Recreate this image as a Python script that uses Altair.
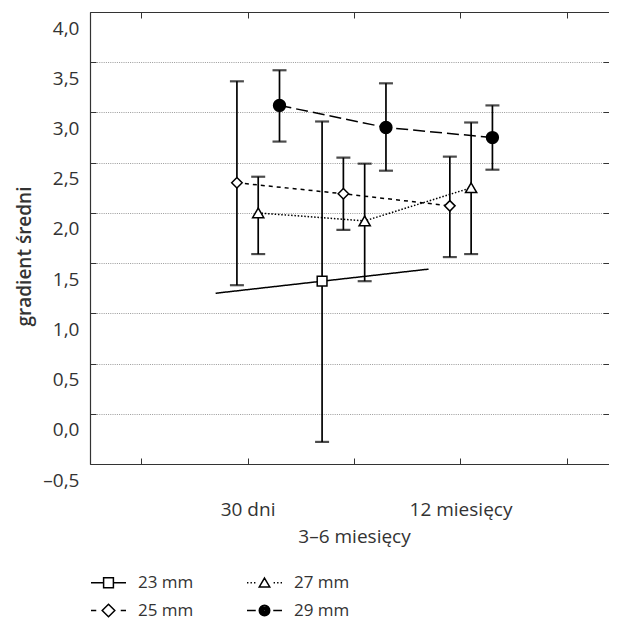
import altair as alt
import pandas as pd

# ---- data ----
series = ["23 mm", "25 mm", "27 mm", "29 mm"]
time_labels = ["30 dni", "3–6 miesięcy", "12 miesięcy"]
time_pos = [1, 2, 3]
dodge = [-0.3, -0.1, 0.1, 0.3]

mean_23 = [1.20, 1.32, 1.44]
low_23 = [None, -0.28, None]
high_23 = [None, 2.91, None]

mean_25 = [2.30, 2.19, 2.07]
low_25 = [1.28, 1.83, 1.56]
high_25 = [3.31, 2.55, 2.56]

mean_27 = [2.00, 1.92, 2.25]
low_27 = [1.59, 1.32, 1.59]
high_27 = [2.36, 2.49, 2.90]

mean_29 = [3.07, 2.85, 2.75]
low_29 = [2.71, 2.42, 2.43]
high_29 = [3.42, 3.29, 3.07]

y_ticks = [-0.5, 0.0, 0.5, 1.0, 1.5, 2.0, 2.5, 3.0, 3.5, 4.0]
x_ticks = [0, 1, 2, 3, 4]

means = [mean_23, mean_25, mean_27, mean_29]
lows = [low_23, low_25, low_27, low_29]
highs = [high_23, high_25, high_27, high_29]

rows = []
for si, s in enumerate(series):
    for ti, t in enumerate(time_pos):
        rows.append({
            "series": s,
            "x": t + dodge[si],
            "mean": means[si][ti],
            "lo": lows[si][ti],
            "hi": highs[si][ti],
            "marker": lows[si][ti] is not None,
        })
df = pd.DataFrame(rows)
err_df = df[df["marker"]].copy()

# ---- styling ----
W, H = 519, 452
FONT = "Open Sans"
INK = "#333333"
xs = alt.Scale(domain=[-0.48, 4.395], nice=False, zero=False)
ys = alt.Scale(domain=[-0.5, 4.0], nice=False, zero=False)

x_expr = " : ".join(
    f"datum.value == {p} ? '{l}'" for p, l in zip(time_pos, time_labels)
) + " : ''"

x_label_axis = alt.Axis(
    values=x_ticks, labelExpr=x_expr, ticks=False, domain=False, grid=False,
    title=None, labelFont=FONT, labelFontSize=19, labelColor=INK,
    labelBaseline="alphabetic", labelAlign="center", labelOverlap=False,
    labelFlush=False,
    labelPadding={"condition": {"test": "datum.value == 2", "value": 78}, "value": 51},
)
y_label_axis = alt.Axis(
    values=y_ticks,
    labelExpr="replace(replace(replace(format(datum.value, '.1f'), '.', ','), '\u2212', '\u2013'), '-', '\u2013')",
    ticks=False, domain=False, grid=True, gridColor="#9a9a9a", gridDash=[1, 1.2],
    gridWidth=1, labelFont=FONT, labelFontSize=19, labelColor=INK,
    labelBaseline="alphabetic", labelOffset=22, labelPadding=11, labelOverlap=False,
    labelFlush=False,
    title="gradient średni", titleFont=FONT, titleFontSize=19, titleFontWeight=600,
    titleColor=INK, titleAngle=270, titleX=-66, titleY=244, titleAlign="center",
    titleBaseline="middle",
)


def tick_axis(orient, offset, values, domain):
    return alt.Axis(
        orient=orient, offset=offset, values=values, labels=False, ticks=True,
        tickSize=6, tickColor=INK, tickWidth=1, domain=domain, domainColor=INK,
        domainWidth=1.2, grid=False, title=None, zindex=1,
    )


rules = alt.Chart(err_df).mark_rule(color="black", strokeWidth=1.7).encode(
    x=alt.X("x:Q", scale=xs, axis=x_label_axis),
    y=alt.Y("lo:Q", scale=ys, axis=y_label_axis),
    y2="hi:Q",
)

caps = alt.Chart(err_df).transform_fold(["lo", "hi"], as_=["end", "val"]).mark_tick(
    orient="horizontal", size=14, thickness=2.2, color="black"
).encode(
    x=alt.X("x:Q", scale=xs, axis=tick_axis("top", -H, x_ticks, True)),
    y=alt.Y("val:Q", scale=ys, axis=tick_axis("right", -W, y_ticks, True)),
)

lines = alt.Chart(df).mark_line(color="black", strokeWidth=1.5).encode(
    x=alt.X("x:Q", scale=xs, axis=tick_axis("bottom", -H, x_ticks, True)),
    y=alt.Y("mean:Q", scale=ys, axis=tick_axis("left", -W, y_ticks, False)),
    strokeDash=alt.StrokeDash(
        "series:N",
        scale=alt.Scale(domain=series, range=[[1, 0], [4, 4], [1.5, 1.8], [12, 5]]),
        legend=None,
    ),
    detail="series:N",
)

points = alt.Chart(err_df).mark_point(
    filled=True, stroke="black", strokeWidth=1.5, opacity=1
).encode(
    x=alt.X("x:Q", scale=xs, axis=None),
    y=alt.Y("mean:Q", scale=ys, axis=None),
    shape=alt.Shape("series:N", scale=alt.Scale(
        domain=series, range=["square", "diamond", "triangle-up", "circle"]), legend=None),
    fill=alt.Fill("series:N", scale=alt.Scale(
        domain=series, range=["white", "white", "white", "black"]), legend=None),
    size=alt.Size("series:O", scale=alt.Scale(
        domain=series, range=[95, 140, 115, 100]), legend=None),
)


# legend symbols: line pieces + marker, drawn as custom symbol paths
def ring(r):
    return f"M{r},0A{r},{r} 0 1,1 {-r},0A{r},{r} 0 1,1 {r},0Z"


legend_paths = [
    "M-1,0H-0.29M0.29,0H1M-0.28,-0.28H0.28V0.28H-0.28Z",
    "M-1,0H-0.7M0.7,0H1M0,-0.36L0.36,0L0,0.36L-0.36,0Z",
    "M-1,0H-0.92M-0.8,0H-0.72M-0.6,0H-0.52M0.52,0H0.6M0.72,0H0.8M0.92,0H1"
    "M0,-0.27L0.3,0.24L-0.3,0.24Z",
    "M-1,0H-0.5M0.5,0H1" + ring(0.3) + ring(0.22) + ring(0.14) + ring(0.06),
]

legend_layer = alt.Chart(df).transform_filter("false").mark_point(
    filled=False, color="black", strokeWidth=1.5
).encode(
    x=alt.X("x:Q", scale=xs, axis=None),
    y=alt.Y("mean:Q", scale=ys, axis=None),
    shape=alt.Shape(
        "series:N",
        scale=alt.Scale(domain=series, range=legend_paths),
        legend=alt.Legend(
            orient="none", legendX=0, legendY=552, columns=2, title=None,
            symbolSize=1225, symbolStrokeWidth=1.5, symbolStrokeColor="black",
            symbolOpacity=1, labelFont=FONT,
            labelFontSize=17, labelColor=INK, labelOffset=11, columnPadding=50,
            rowPadding=1, padding=0,
        ),
    ),
)

chart = alt.layer(rules, caps, lines, points, legend_layer).resolve_axis(
    x="independent", y="independent"
).resolve_scale(shape="independent").properties(
    width=W, height=H,
    autosize=alt.AutoSizeParams(type="none"),
    padding={"left": 82, "top": 4, "right": 0, "bottom": 159},
).configure_view(stroke=None).configure(font=FONT)

chart.save("out.html", embed_options={"renderer": "svg", "actions": False})
